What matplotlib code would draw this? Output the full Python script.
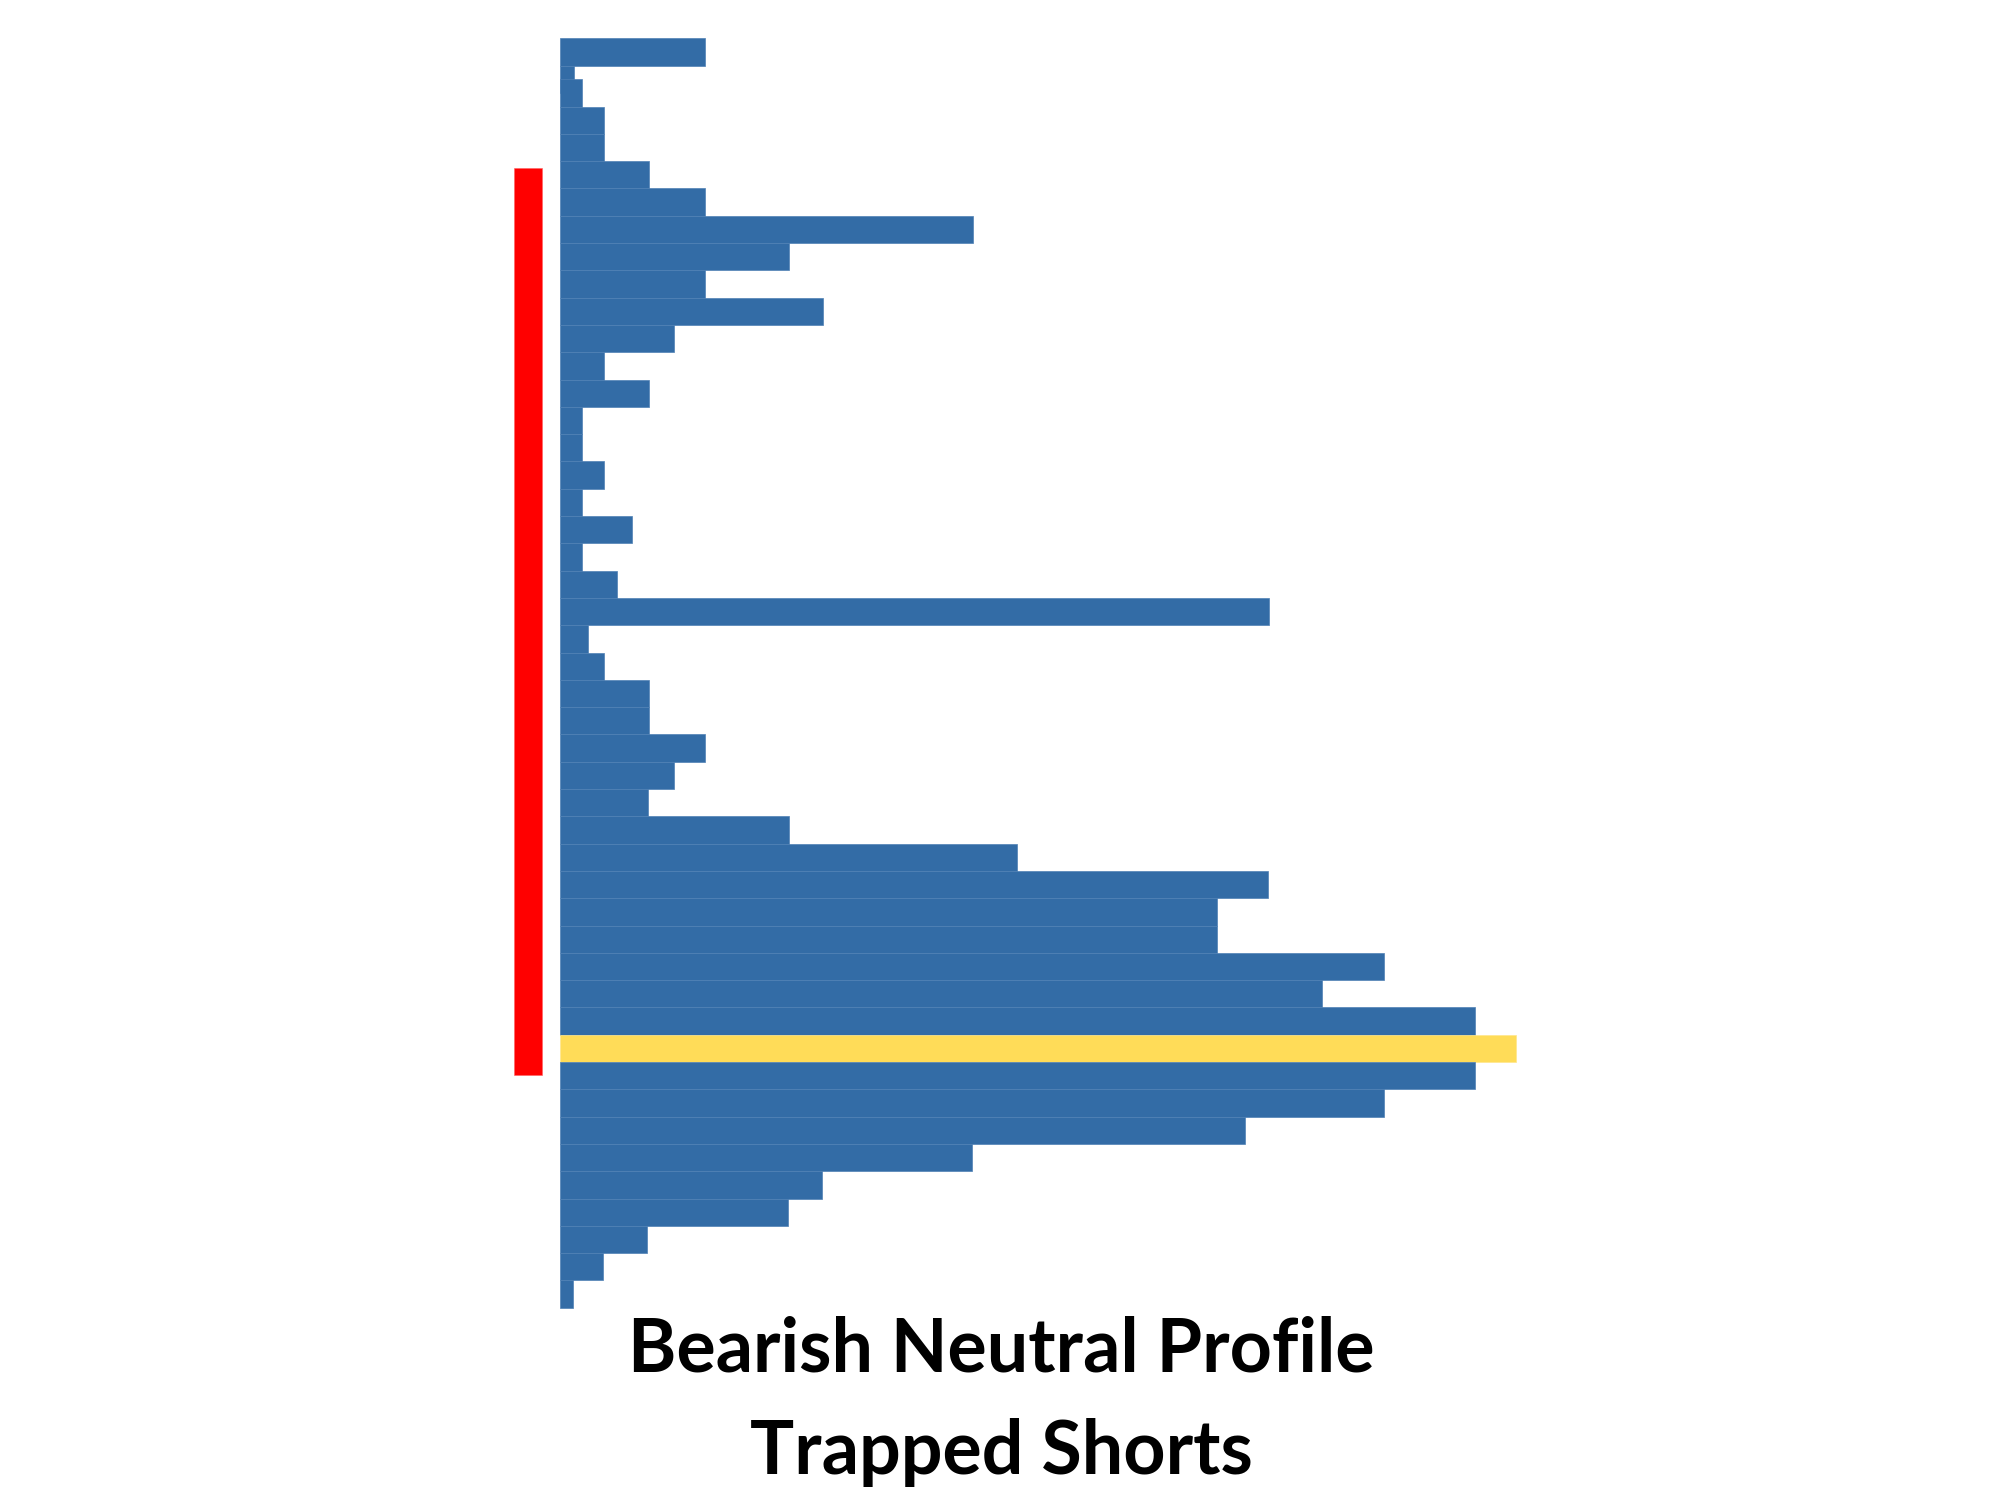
import matplotlib
matplotlib.use('Agg')
import matplotlib.pyplot as plt

# price rows (top -> bottom) and volume at each row
levels = [0.5, 1.5, 2] + list(range(3, 47))
volumes = [145, 14, 22, 44, 44, 89, 145, 413, 229, 145,
           263, 114, 44, 89, 22, 22, 44, 22, 72, 22,
           57, 709, 28, 44, 89, 89, 145, 114, 88, 229,
           457, 708, 657, 657, 824, 762, 915, 956, 915, 824,
           685, 412, 262, 228, 87, 43, 13]
poc_level = 37

# value area marker (rows)
va_top = 4.76
va_bottom = 37.97

title_1 = 'Bearish Neutral Profile'
title_2 = 'Trapped Shorts'

blue = '#336ca6'
yellow = '#ffdc58'
red = '#ff0000'

fig = plt.figure(figsize=(20, 15), dpi=100)
ax = fig.add_axes([0, 0, 1, 1])

colors = [yellow if lv == poc_level else blue for lv in levels]
edges = ['#ffe68c' if lv == poc_level else '#4f80b4' for lv in levels]
ax.barh(levels, volumes, height=1.0, left=0, color=colors,
        edgecolor=edges, linewidth=0.5)

ax.bar(-32, va_bottom - va_top, bottom=va_top, width=28, color=red,
       edgecolor='#ff6060', linewidth=0.4)

ax.set_xlim(-560.3, 1439.7)
ax.set_ylim(1500 / 27.3 - 38.3 / 27.3, -38.3 / 27.3)
ax.axis('off')

fig.text(0.5005, 1 - 1371.5 / 1500, title_1, ha='center', va='baseline',
         fontsize=53, fontweight='bold', family=['Lato', 'DejaVu Sans'])
fig.text(0.5005, 1 - 1474 / 1500, title_2, ha='center', va='baseline',
         fontsize=53, fontweight='bold', family=['Lato', 'DejaVu Sans'])

fig.savefig('out.png', dpi=100)
